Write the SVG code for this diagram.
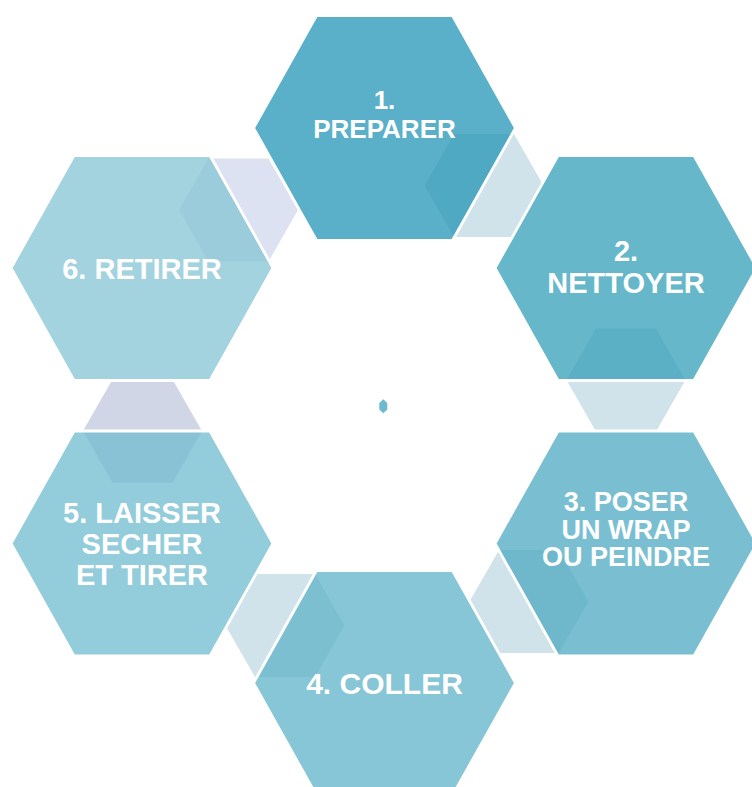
<svg xmlns="http://www.w3.org/2000/svg" width="752" height="787" viewBox="0 0 752 787">
<style>
.node{stroke:#FFFFFF;stroke-width:2.8;fill-opacity:0.76;stroke-linejoin:miter}
.lbl{font-family:"Liberation Sans",Arial,sans-serif;font-weight:bold;fill:#FFFFFF;text-anchor:middle}
.conn{stroke:none}
</style>
<rect width="752" height="787" fill="#FFFFFF"/>
<g id="connectors">
<polygon class="conn" fill="#D0E3EA" points="424.5,185.5 454,134 514,134 543.5,185.5 514,237 454,237"/>
<polygon class="conn" fill="#D0E3EA" points="566.5,380 596,328.5 656,328.5 685.5,380 656,431.5 596,431.5"/>
<polygon class="conn" fill="#D0E3EA" points="469.5,601.5 499,550 559,550 588.5,601.5 559,653 499,653"/>
<polygon class="conn" fill="#D0E3EA" points="225.5,625.5 255,574 315,574 344.5,625.5 315,677 255,677"/>
<polygon class="conn" fill="#D0D6E6" points="83,431 112.5,379.5 172.5,379.5 202,431 172.5,482.5 112.5,482.5"/>
<polygon class="conn" fill="#DDE2F2" points="179,210 208.5,158.5 268.5,158.5 298,210 268.5,261.5 208.5,261.5"/>
</g>
<g id="node1">
<polygon class="node" fill="#2697B7" points="253.5,128 316.5,15.5 452.5,15.5 515.5,128 452.5,240.5 316.5,240.5"/>
<text class="lbl" font-size="26" x="384.5" y="109">1.</text>
<text class="lbl" font-size="26" x="384.5" y="138">PREPARER</text>
</g>
<g id="node2">
<polygon class="node" fill="#37A0B9" points="495,268 558,155.5 694,155.5 757,268 694,380.5 558,380.5"/>
<text class="lbl" font-size="29" x="626" y="261">2.</text>
<text class="lbl" font-size="29" x="626" y="292.5">NETTOYER</text>
</g>
<g id="node3">
<polygon class="node" fill="#50ABC3" points="495,543.5 558,431 694,431 757,543.5 694,656 558,656"/>
<text class="lbl" font-size="27" x="626" y="510.5">3. POSER</text>
<text class="lbl" font-size="27" x="626" y="538.5">UN WRAP</text>
<text class="lbl" font-size="27" x="626" y="566">OU PEINDRE</text>
</g>
<g id="node4">
<polygon class="node" fill="#60B4C9" points="253.5,683 316.5,570.5 452.5,570.5 515.5,683 452.5,795.5 316.5,795.5"/>
<text class="lbl" font-size="30" x="384.5" y="694">4. COLLER</text>
</g>
<g id="node5">
<polygon class="node" fill="#71BCCE" points="11,543.5 74,431 210,431 273,543.5 210,656 74,656"/>
<text class="lbl" font-size="29" x="142" y="522.5">5. LAISSER</text>
<text class="lbl" font-size="29" x="142" y="553.5">SECHER</text>
<text class="lbl" font-size="29" x="142" y="584.5">ET TIRER</text>
</g>
<g id="node6">
<polygon class="node" fill="#86C5D5" points="11,268 74,155.5 210,155.5 273,268 210,380.5 74,380.5"/>
<text class="lbl" font-size="29" x="142" y="278.5">6. RETIRER</text>
</g>
<g id="center">
<polygon fill="#6DB9D2" points="383.3,399.3 387.3,403 387.3,409.5 383.3,413.3 379.3,409.5 379.3,403"/>
</g>
</svg>
